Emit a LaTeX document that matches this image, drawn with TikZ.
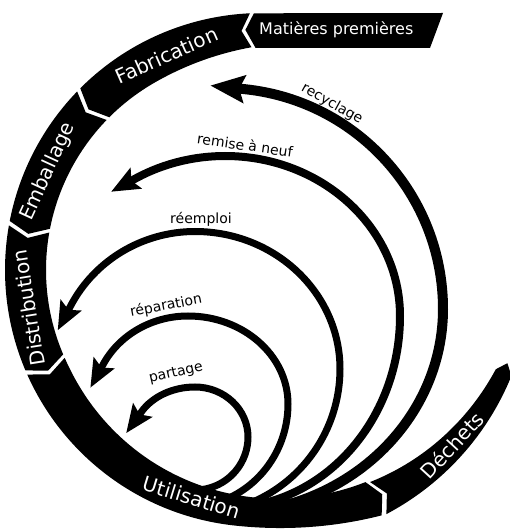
\documentclass[tikz,border=0pt]{standalone}
\usepackage{fontspec}
\setmainfont{DejaVu Sans}
\usetikzlibrary{arrows.meta}
\newcommand\chev{2.2}
\newcommand\ringband[4]{%
  \fill plot[domain=#1:#2, samples=50] (\x:#4)
    -- ({#2+\chev}:{(#3+#4)/2})
    -- plot[domain=#2:#1, samples=50] (\x:#3)
    -- ({#1+\chev}:{(#3+#4)/2}) -- cycle;}
\begin{document}
\begin{tikzpicture}[x=1pt,y=1pt,
  backarrow/.style={draw=black, line width=#1},
  bighead/.style={-{Stealth[length=34pt,width=27pt,inset=5pt]}},
  smallhead/.style={-{Stealth[length=28pt,width=23pt,inset=5pt]}},
  bandlabel/.style={text=white, font=\fontsize{20}{22}\selectfont, inner sep=0pt},
  arrowlabel/.style={text=black, font=\fontsize{14}{16}\selectfont, inner sep=0pt}]
\useasboundingbox (0,0) rectangle (510,531);
\fill[white] (0,0) rectangle (510,531);
\clip (0,0) rectangle (510,531);

% ring of steps
\begin{scope}[shift={(262,261)}]
  \coordinate (ringcentre) at (0,0);
  % Fabrication
  \fill plot[domain=92.7:135, samples=60] (\x:257)
    -- (137.2:236.5)
    -- plot[domain=135:92.7, samples=60] (\x:{216+7*pow(max(0,(120-\x)/27.3),2)})
    -- (94.9:240) -- cycle;
  \ringband{136}{169}{216}{257}    % Emballage
  \ringband{170}{203}{216}{257}    % Distribution
  % Utilisation
  \fill plot[domain=204:296, samples=90] (\x:{257+16*pow(max(0,(\x-263.5)/32.5),2)})
    -- (298.2:254.5)
    -- plot[domain=296:204, samples=90] (\x:{216+20*pow((\x-204)/92,1.5)})
    -- (206.2:236.5) -- cycle;
  % Dechets
  \fill plot[domain=297:337, samples=50] (\x:{274-3*(\x-297)/40})
    -- (339.2:262.5)
    -- plot[domain=337:297, samples=50] (\x:{238+16*(\x-297)/40})
    -- (299.2:256) -- cycle;
\end{scope}

% raw materials
\fill (253.9,517.7) -- (443,518) -- (430,483) -- (255.6,483) -- (245.4,501.1) -- cycle;
\node[anchor=base west, text=white, font=\fontsize{16}{18}\selectfont, inner sep=0pt] (mp) at (259,496) {Matières premières};

% recyclage
\begin{scope}[shift={(222,222)}]
  \draw[backarrow=10pt, bighead] (-72:221 and 205)
    arc[start angle=-72, end angle=0, x radius=221, y radius=205]
    arc[start angle=0, end angle=84, radius=221] -- ++(174:35);
\end{scope}
\node[arrowlabel, rotate=-29] (lrec) at (332,427) {recyclage};
% remise a neuf
\begin{scope}[shift={(225,215)}]
  \draw[backarrow=8pt, smallhead] (-78:175 and 192)
    arc[start angle=-78, end angle=0, x radius=175, y radius=192]
    arc[start angle=0, end angle=120, x radius=175, y radius=160] -- ++(208.5:30);
\end{scope}
\node[arrowlabel, rotate=-8] (lrem) at (245,386) {remise à neuf};
% reemploi
\begin{scope}[shift={(195,162)}]
  \draw[backarrow=7pt, smallhead] (-70:145)
    arc[start angle=-70, end angle=0, radius=145]
    arc[start angle=0, end angle=90, x radius=145, y radius=137.5]
    arc[start angle=90, end angle=152.5, x radius=140, y radius=137.5] -- ++(242.1:28);
\end{scope}
\node[arrowlabel] (lree) at (201,312) {réemploi};
% reparation
\begin{scope}[shift={(188,127)}]
  \draw[backarrow=7pt, smallhead] (-72:100 and 103)
    arc[start angle=-72, end angle=0, x radius=100, y radius=103]
    arc[start angle=0, end angle=90, x radius=100, y radius=88]
    arc[start angle=90, end angle=153, x radius=95, y radius=88] -- ++(241.2:27);
\end{scope}
\node[arrowlabel, rotate=11] (lrep) at (166,225) {réparation};
% partage
\begin{scope}[shift={(195,94)}]
  \draw[backarrow=7pt, smallhead] (-100:53)
    arc[start angle=-100, end angle=0, radius=53]
    arc[start angle=0, end angle=90, x radius=53, y radius=50]
    arc[start angle=90, end angle=150, x radius=62, y radius=50] -- ++(234.4:26);
\end{scope}
\node[arrowlabel, rotate=13] (lpar) at (176,158) {partage};

% band labels (on top of everything)
\begin{scope}[shift={(262,261)}]
  \node[bandlabel, rotate=24] (fab) at (114:235) {Fabrication};
  \node[bandlabel, rotate=65.3] (emb) at (155.3:235.5) {Emballage};
  \node[bandlabel, rotate=99.2] (dis) at (189.2:236.5) {Distribution};
  \node[bandlabel, rotate=-17.1] (uti) at (252.9:238) {Utilisation};
  \node[bandlabel, rotate=47.3] (dec) at (317.3:258.5) {Déchets};
\end{scope}
\end{tikzpicture}
\end{document}
